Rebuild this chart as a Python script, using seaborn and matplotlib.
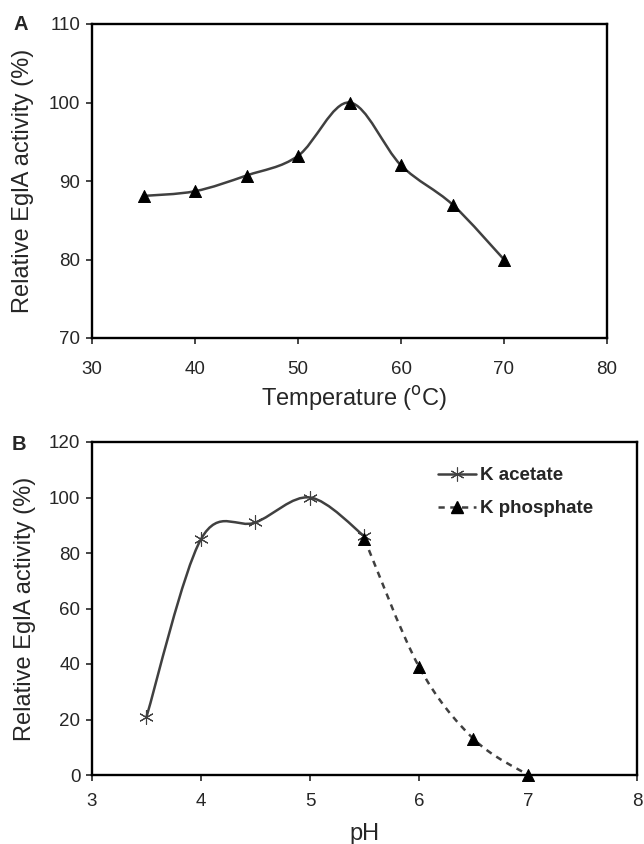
import numpy as np
import pandas as pd
import matplotlib.pyplot as plt
import seaborn as sns
from matplotlib.path import Path
from matplotlib.patches import PathPatch
from matplotlib.lines import Line2D

# panel A: temperature profile
temp_c = [35, 40, 45, 50, 55, 60, 65, 70]
temp_activity = [88.1, 88.7, 90.7, 93.2, 100.0, 92.0, 87.0, 80.0]

# panel B: pH profile, two buffers
ph_acetate = [3.5, 4.0, 4.5, 5.0, 5.5]
act_acetate = [21.0, 85.0, 91.0, 100.0, 86.0]
ph_phosphate = [5.5, 6.0, 6.5, 7.0]
act_phosphate = [85.0, 39.0, 13.0, 0.0]

LINE_COLOR = '#404040'
DASH = (0, (2.5, 2.2))
W, H = 644, 844


def smooth_path(xs, ys):
    # Excel style smoothed line: cubic Bezier segments through the points
    p = np.column_stack([xs, ys]).astype(float)
    n = len(p)
    verts = [p[0]]
    codes = [Path.MOVETO]
    for i in range(n - 1):
        prev = p[i - 1] if i > 0 else p[i]
        nxt = p[i + 2] if i + 2 < n else p[i + 1]
        c1 = p[i] + (p[i + 1] - prev) / 6.0
        c2 = p[i + 1] - (nxt - p[i]) / 6.0
        verts += [c1, c2, p[i + 1]]
        codes += [Path.CURVE4] * 3
    return Path(verts, codes)


def add_curve(ax, xs, ys, ls='-'):
    patch = PathPatch(smooth_path(xs, ys), facecolor='none', edgecolor=LINE_COLOR,
                      lw=1.8, linestyle=ls, zorder=2, capstyle='butt')
    ax.add_patch(patch)


def box(left, top, right, bottom):
    return [left / W, 1 - bottom / H, (right - left) / W, (bottom - top) / H]


sns.set_style('ticks')
plt.rcParams['font.family'] = ['Liberation Sans', 'DejaVu Sans']

fig = plt.figure(figsize=(W / 100, H / 100), dpi=100)
ax_a = fig.add_axes(box(92, 24, 607, 338))
ax_b = fig.add_axes(box(92, 442, 637, 775))

# ---- panel A
df_a = pd.DataFrame({'temp': temp_c, 'act': temp_activity})
add_curve(ax_a, temp_c, temp_activity)
sns.scatterplot(data=df_a, x='temp', y='act', ax=ax_a, marker='^', s=75,
                color='black', edgecolor='black', zorder=3, legend=False)
ax_a.set_xlim(30, 80)
ax_a.set_ylim(70, 110)
ax_a.set_xticks(range(30, 81, 10))
ax_a.set_yticks(range(70, 111, 10))
ax_a.set_xlabel('Temperature ($^{\\mathrm{o}}$C)', fontsize=17)
ax_a.set_ylabel('Relative EglA activity (%)', fontsize=17)
ax_a.xaxis.set_label_coords(0.509, -0.145)
ax_a.yaxis.set_label_coords(-0.112, 0.5)
ax_a.tick_params(axis='x', pad=12)

# ---- panel B
df_ac = pd.DataFrame({'ph': ph_acetate, 'act': act_acetate})
df_ph = pd.DataFrame({'ph': ph_phosphate, 'act': act_phosphate})
add_curve(ax_b, ph_acetate, act_acetate)
add_curve(ax_b, ph_phosphate, act_phosphate, ls=DASH)
sns.scatterplot(data=df_ac, x='ph', y='act', ax=ax_b, marker=(6, 2, 0), s=100,
                color=LINE_COLOR, linewidth=0.8, zorder=3, legend=False)
sns.scatterplot(data=df_ph, x='ph', y='act', ax=ax_b, marker='^', s=75,
                color='black', edgecolor='black', zorder=3, legend=False,
                clip_on=False)
ax_b.set_xlim(3, 8)
ax_b.set_ylim(0, 120)
ax_b.set_xticks(range(3, 9))
ax_b.set_yticks(range(0, 121, 20))
ax_b.set_xlabel('pH', fontsize=17)
ax_b.set_ylabel('Relative EglA activity (%)', fontsize=17)
ax_b.xaxis.set_label_coords(0.5, -0.145)
ax_b.yaxis.set_label_coords(-0.103, 0.5)
ax_b.tick_params(axis='x', pad=9)

handles = [
    Line2D([], [], color=LINE_COLOR, lw=1.8, marker=(6, 2, 0), markersize=10,
           markeredgewidth=0.8, markeredgecolor=LINE_COLOR),
    Line2D([], [], color=LINE_COLOR, lw=1.8, ls=DASH, marker='^',
           markersize=8.5, markerfacecolor='black', markeredgecolor='black'),
]
ax_b.legend(handles, ['K acetate', 'K phosphate'], loc='upper left',
            bbox_to_anchor=(0.635, 0.925), frameon=False, borderpad=0,
            borderaxespad=0, handlelength=2.0, handletextpad=0.25,
            labelspacing=0.85, prop={'weight': 'bold', 'size': 13.5})

for ax in (ax_a, ax_b):
    for side in ax.spines.values():
        side.set_linewidth(1.7)
        side.set_color('black')
    ax.tick_params(labelsize=13.5, width=1.2, length=4.3, direction='out')
    ax.tick_params(axis='y', pad=4)

fig.text(21 / W, 1 - 24 / H, 'A', fontsize=14.5, fontweight='bold',
         ha='center', va='center')
fig.text(19 / W, 1 - 445 / H, 'B', fontsize=14.5, fontweight='bold',
         ha='center', va='center')

fig.savefig('out.png', dpi=100)
